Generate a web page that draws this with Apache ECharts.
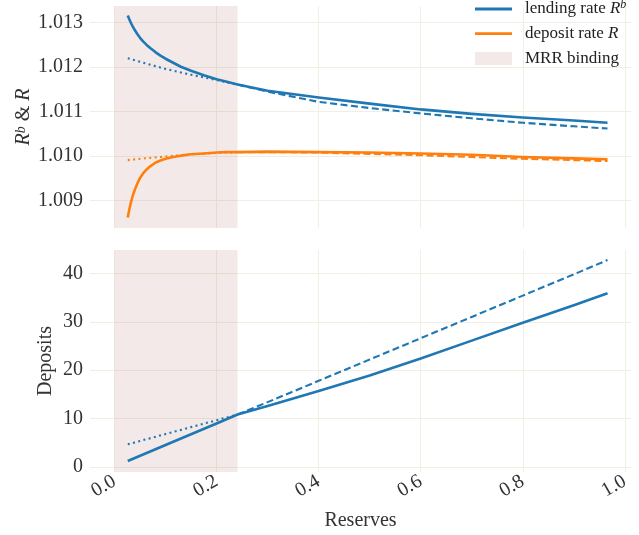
<!DOCTYPE html>
<html><head><meta charset="utf-8">
<script src="https://cdn.jsdelivr.net/npm/echarts@6/dist/echarts.min.js"></script>
<style>html,body{margin:0;padding:0;background:#fff}#c{width:639px;height:535px}</style>
</head><body><div id="c"></div>
<script>
// ---- data ----
const xMain = [0.026, 0.029, 0.032, 0.036, 0.04, 0.045, 0.05, 0.056, 0.063, 0.07, 0.08, 0.09, 0.1, 0.115, 0.13, 0.15, 0.175, 0.2, 0.22, 0.241, 0.3, 0.4, 0.5, 0.6, 0.7, 0.8, 0.9, 0.966];
const lendSolid = [1.01316, 1.01308, 1.01300, 1.01291, 1.01283, 1.01274, 1.01266, 1.01258, 1.01250, 1.01243, 1.01234, 1.01226, 1.01219, 1.01210, 1.01201, 1.01192, 1.01182, 1.01173, 1.01167, 1.01161, 1.01147, 1.01132, 1.01118, 1.01105, 1.01095, 1.01087, 1.01080, 1.01075];
const depSolid = [1.00862, 1.00880, 1.00895, 1.00912, 1.00925, 1.00939, 1.00951, 1.00961, 1.00970, 1.00977, 1.00985, 1.00990, 1.00994, 1.00998, 1.01001, 1.01004, 1.01006, 1.01008, 1.01009, 1.01009, 1.01010, 1.01009, 1.01008, 1.01006, 1.01003, 1.00998, 1.00995, 1.00993];

const xHigh = [0.241, 0.3, 0.4, 0.5, 0.6, 0.7, 0.8, 0.9, 0.966];
const lendDashed = [1.01161, 1.01145, 1.01122, 1.01108, 1.01096, 1.01085, 1.01075, 1.01067, 1.01062];
const depDashed = [1.01009, 1.01009, 1.01008, 1.01005, 1.01002, 1.00998, 1.00994, 1.00991, 1.00989];

const xLow = [0.026, 0.06, 0.1, 0.15, 0.2, 0.241];
const lendDotted = [1.01220, 1.01209, 1.01196, 1.01183, 1.01171, 1.01161];
const depDotted = [1.00991, 1.00995, 1.00999, 1.01004, 1.01007, 1.01009];

const xDep = [0.026, 0.1, 0.2, 0.241, 0.3, 0.4, 0.5, 0.6, 0.7, 0.8, 0.9, 0.966];
const depositsSolid = [1.24, 4.55, 9.0, 10.84, 12.6, 15.7, 18.9, 22.4, 26.1, 29.8, 33.4, 35.9];
const depositsDashed = [10.84, 13.4, 17.8, 22.2, 26.6, 31.0, 35.4, 39.8, 42.75];
const depositsDotted = [4.69, 5.66, 6.81, 8.24, 9.67, 10.84];

const mrrRange = [0, 0.241];

// ---- helpers ----
const zip = (xs, ys) => xs.map((x, i) => [x, ys[i]]);
const BLUE = '#1f77b4', ORANGE = '#ff7f0e';
const SHADE = 'rgba(160,70,70,0.12)';
const FONT = 'Liberation Serif';
const GRIDC = '#f2eee2';
const LINE_ICON = 'path://M0,0L0,0M0,5.1L37,5.1L37,7.9L0,7.9ZM37,13L37,13';

function line(name, xs, ys, color, kind, gi) {
  const w = kind === 'solid' ? 2.6 : 2.1;
  const type = kind === 'solid' ? 'solid' : (kind === 'dashed' ? [7, 3.5] : [2, 3.4]);
  return {
    type: 'line', name, xAxisIndex: gi, yAxisIndex: gi,
    data: zip(xs, ys), symbol: 'none', showSymbol: false, smooth: false,
    lineStyle: { color, width: w, type, cap: 'butt', join: 'round' },
    itemStyle: { color }, z: 3, silent: true, animation: false
  };
}

const chart = echarts.init(document.getElementById('c'), null, { renderer: 'canvas' });

const commonX = {
  type: 'value', min: -0.048, max: 1.012,
  axisLine: { show: false }, axisTick: { show: false },
  splitLine: { show: true, showMinLine: false, showMaxLine: false, lineStyle: { color: GRIDC, width: 1 } }
};
const labelStyle = { fontFamily: FONT, fontSize: 20, color: '#333' };

const option = {
  animation: false,
  backgroundColor: '#fff',
  grid: [
    { left: 90, top: 6, width: 541, height: 222, containLabel: false, outerBoundsMode: 'none' },
    { left: 90, top: 250, width: 541, height: 222, containLabel: false, outerBoundsMode: 'none' }
  ],
  legend: {
    orient: 'vertical', left: 475, top: -1, padding: 0,
    itemWidth: 37, itemHeight: 13, itemGap: 4.7,
    data: [{ name: 'lending rate', icon: LINE_ICON }, { name: 'deposit rate', icon: LINE_ICON }, { name: 'MRR binding', icon: 'rect' }],
    textStyle: {
      fontFamily: FONT, fontSize: 17, color: '#222', lineHeight: 20, padding: [0, 0, 0, 8],
      rich: {
        t: { fontFamily: FONT, fontSize: 17, color: '#222' },
        i: { fontFamily: FONT, fontSize: 17, fontStyle: 'italic', color: '#222' },
        s: { fontFamily: FONT, fontSize: 12, fontStyle: 'italic', color: '#222', verticalAlign: 'top', lineHeight: 12 }
      }
    },
    formatter: function (n) {
      if (n === 'lending rate') return '{t|lending rate }{i|R}{s|b}';
      if (n === 'deposit rate') return '{t|deposit rate }{i|R}';
      return '{t|MRR binding}';
    },
    selectedMode: false
  },
  xAxis: [
    Object.assign({}, commonX, { gridIndex: 0, axisLabel: { show: false } }),
    Object.assign({}, commonX, {
      gridIndex: 1,
      name: 'Reserves', nameLocation: 'middle', nameGap: 39, nameMoveOverlap: false,
      nameTextStyle: labelStyle,
      axisLabel: Object.assign({}, labelStyle, {
        rotate: 30, margin: 8, showMinLabel: false, showMaxLabel: false,
        formatter: v => v.toFixed(1)
      })
    })
  ],
  yAxis: [
    {
      type: 'value', gridIndex: 0, min: 1.008383, max: 1.013376,
      axisLine: { show: false }, axisTick: { show: false },
      splitLine: { show: true, showMinLine: false, showMaxLine: false, lineStyle: { color: GRIDC, width: 1 } },
      axisLabel: Object.assign({}, labelStyle, { margin: 7, showMinLabel: false, showMaxLabel: false, formatter: v => v.toFixed(3) }),
      name: '{i|R}{s|b}{t| & }{i|R}', nameLocation: 'middle', nameGap: 56, nameRotate: 90, nameMoveOverlap: false,
      nameTextStyle: {
        fontFamily: FONT, fontSize: 20, color: '#333',
        rich: {
          t: { fontFamily: FONT, fontSize: 20, color: '#333' },
          i: { fontFamily: FONT, fontSize: 20, fontStyle: 'italic', color: '#333' },
          s: { fontFamily: FONT, fontSize: 14, fontStyle: 'italic', color: '#333', verticalAlign: 'top', lineHeight: 14 }
        }
      }
    },
    {
      type: 'value', gridIndex: 1, min: -1.03, max: 44.82,
      axisLine: { show: false }, axisTick: { show: false },
      splitLine: { show: true, showMinLine: false, showMaxLine: false, lineStyle: { color: GRIDC, width: 1 } },
      axisLabel: Object.assign({}, labelStyle, { margin: 7, showMinLabel: false, showMaxLabel: false, formatter: v => String(Math.round(v)) }),
      name: 'Deposits', nameLocation: 'middle', nameGap: 34, nameRotate: 90, nameMoveOverlap: false,
      nameTextStyle: labelStyle
    }
  ],
  series: [
    {
      type: 'bar', name: 'MRR binding', xAxisIndex: 0, yAxisIndex: 0, data: [],
      itemStyle: { color: SHADE }, silent: true,
      markArea: { silent: true, itemStyle: { color: SHADE }, data: [[{ xAxis: mrrRange[0] }, { xAxis: mrrRange[1] }]] }
    },
    {
      type: 'bar', name: 'MRR binding', xAxisIndex: 1, yAxisIndex: 1, data: [],
      itemStyle: { color: SHADE }, silent: true,
      markArea: { silent: true, itemStyle: { color: SHADE }, data: [[{ xAxis: mrrRange[0] }, { xAxis: mrrRange[1] }]] }
    },
    line('lending rate', xMain, lendSolid, BLUE, 'solid', 0),
    line('lend dashed', xHigh, lendDashed, BLUE, 'dashed', 0),
    line('lend dotted', xLow, lendDotted, BLUE, 'dotted', 0),
    line('deposit rate', xMain, depSolid, ORANGE, 'solid', 0),
    line('dep dashed', xHigh, depDashed, ORANGE, 'dashed', 0),
    line('dep dotted', xLow, depDotted, ORANGE, 'dotted', 0),
    line('deposits', xDep, depositsSolid, BLUE, 'solid', 1),
    line('deposits dashed', xHigh, depositsDashed, BLUE, 'dashed', 1),
    line('deposits dotted', xLow, depositsDotted, BLUE, 'dotted', 1)
  ]
};
chart.setOption(option);
</script>
</body></html>
